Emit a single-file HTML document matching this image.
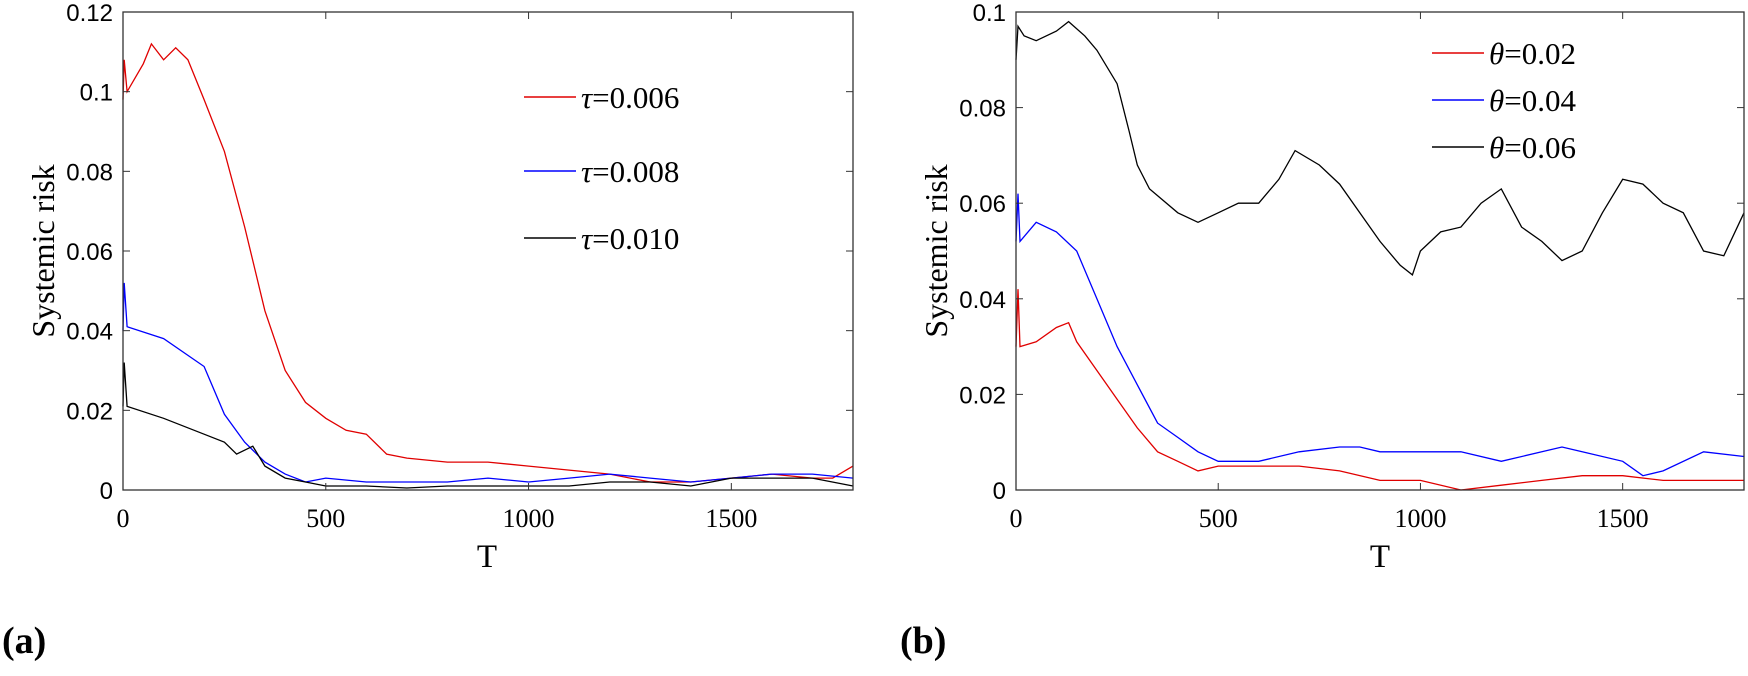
<!DOCTYPE html>
<html><head><meta charset="utf-8"><style>
body{margin:0;background:#fff;width:1748px;height:671px;overflow:hidden}
svg text{font-family:"Liberation Serif",serif}
.ya{font-family:"Liberation Sans",sans-serif;font-size:24px}
</style></head><body>
<svg id="svg" width="1748" height="671" xmlns="http://www.w3.org/2000/svg"></svg>
<script>
// ---- panel (a) data ----
const aT=[0,3,10,50,70,100,130,160,200,250,300,350,400,450,500,550,600,650,700,800,900,1000,1100,1200,1300,1400,1500,1600,1700,1750,1800];
const aRed=[0.098,0.108,0.100,0.107,0.112,0.108,0.111,0.108,0.098,0.085,0.066,0.045,0.030,0.022,0.018,0.015,0.014,0.009,0.008,0.007,0.007,0.006,0.005,0.004,0.002,0.002,0.003,0.004,0.003,0.003,0.006];
const aTb=[0,3,10,100,200,250,300,350,400,450,500,600,700,800,900,1000,1100,1200,1300,1400,1500,1600,1700,1800];
const aBlue=[0.040,0.052,0.041,0.038,0.031,0.019,0.012,0.007,0.004,0.002,0.003,0.002,0.002,0.002,0.003,0.002,0.003,0.004,0.003,0.002,0.003,0.004,0.004,0.003];
const aTk=[0,3,10,100,200,250,280,320,350,400,450,500,600,700,800,900,1000,1100,1200,1300,1400,1500,1600,1700,1800];
const aBlack=[0.021,0.032,0.021,0.018,0.014,0.012,0.009,0.011,0.006,0.003,0.002,0.001,0.001,0.0005,0.001,0.001,0.001,0.001,0.002,0.002,0.001,0.003,0.003,0.003,0.001];
// ---- panel (b) data ----
const bTk=[0,5,20,50,100,130,170,200,250,280,300,330,400,450,500,550,600,650,690,750,800,850,900,950,980,1000,1050,1100,1150,1200,1250,1300,1350,1400,1450,1500,1550,1600,1650,1700,1750,1800];
const bBlack=[0.090,0.097,0.095,0.094,0.096,0.098,0.095,0.092,0.085,0.075,0.068,0.063,0.058,0.056,0.058,0.060,0.060,0.065,0.071,0.068,0.064,0.058,0.052,0.047,0.045,0.050,0.054,0.055,0.060,0.063,0.055,0.052,0.048,0.050,0.058,0.065,0.064,0.060,0.058,0.050,0.049,0.058];
const bTb=[0,5,10,50,100,150,200,250,300,350,400,450,500,600,700,800,850,900,1000,1100,1200,1300,1350,1400,1500,1550,1600,1700,1800];
const bBlue=[0.052,0.062,0.052,0.056,0.054,0.050,0.040,0.030,0.022,0.014,0.011,0.008,0.006,0.006,0.008,0.009,0.009,0.008,0.008,0.008,0.006,0.008,0.009,0.008,0.006,0.003,0.004,0.008,0.007];
const bTr=[0,5,10,50,100,130,150,200,250,300,350,400,450,500,600,700,800,900,1000,1100,1200,1300,1400,1500,1600,1700,1800];
const bRed=[0.030,0.042,0.030,0.031,0.034,0.035,0.031,0.025,0.019,0.013,0.008,0.006,0.004,0.005,0.005,0.005,0.004,0.002,0.002,0.000,0.001,0.002,0.003,0.003,0.002,0.002,0.002];
const xTicks=[0,500,1000,1500];
const aYTicks=[0,0.02,0.04,0.06,0.08,0.1,0.12];
const aYLabels=["0","0.02","0.04","0.06","0.08","0.1","0.12"];
const bYTicks=[0,0.02,0.04,0.06,0.08,0.1];
const bYLabels=["0","0.02","0.04","0.06","0.08","0.1"];

const NS="http://www.w3.org/2000/svg";
const svg=document.getElementById('svg');
function mk(tag,attrs,parent){const e=document.createElementNS(NS,tag);for(const k in attrs)e.setAttribute(k,attrs[k]);(parent||svg).appendChild(e);return e;}

function panel(id,L,R,T,B,ymax,yTicks,yLabels,series,legend,legY,legX,label){
  const g=mk('g',{});
  
  
  const sx=v=>L+v/1800*(R-L), sy=v=>B-v/ymax*(B-T);
  series.forEach(s=>{
    const pts=s.x.map((t,i)=>sx(t).toFixed(1)+','+sy(s.y[i]).toFixed(1)).join(' ');
    const p=mk('polyline',{points:pts,fill:'none',stroke:s.c,'stroke-width':1.3},g);
    
    
  });
  const box=mk('rect',{x:L,y:T,width:R-L,height:B-T,fill:'none',stroke:'#333','stroke-width':1.3},g);
  
  
  xTicks.forEach(t=>{
    mk('line',{x1:sx(t),x2:sx(t),y1:B,y2:B-7,stroke:'#333'},g);
    mk('line',{x1:sx(t),x2:sx(t),y1:T,y2:T+7,stroke:'#333'},g);
    const tx=mk('text',{x:sx(t),y:527,'text-anchor':'middle','font-size':26},g);tx.textContent=t;
    
    
  });
  yTicks.forEach((t,i)=>{
    mk('line',{x1:L,x2:L+7,y1:sy(t),y2:sy(t),stroke:'#333'},g);
    mk('line',{x1:R,x2:R-7,y1:sy(t),y2:sy(t),stroke:'#333'},g);
    const tx=mk('text',{x:L-10,y:sy(t)+9,'text-anchor':'end',class:'ya'},g);tx.textContent=yLabels[i];
    
    
  });
  const xt=mk('text',{x:(L+R)/2-(id=='a'?1:0),y:567,'text-anchor':'middle','font-size':33},g);xt.textContent='T';
  
  
  const yt=mk('text',{x:0,y:0,'text-anchor':'middle','font-size':32,transform:`translate(${L-69},${(T+B)/2}) rotate(-90)`},g);yt.textContent='Systemic risk';
  
  
  legend.forEach((l,i)=>{
    mk('line',{x1:legX,x2:legX+52,y1:legY[i],y2:legY[i],stroke:l.c,'stroke-width':1.5},g);
    const tx=mk('text',{x:legX+57,y:legY[i]+11,'font-size':31},g);
    
    
    const s=mk('tspan',{'font-style':'italic'},tx);s.textContent=l.sym;
    const v=mk('tspan',{},tx);v.textContent='='+l.v;
  });
  const pl=mk('text',{x:label[0],y:label[1],'font-size':38,'font-weight':'bold'},g);pl.textContent=label[2];
  
  
}
panel('a',123,853,12,490,0.12,aYTicks,aYLabels,
 [{x:aT,y:aRed,c:'#e00000',n:'tau-0.006'},{x:aTb,y:aBlue,c:'#0000ff',n:'tau-0.008'},{x:aTk,y:aBlack,c:'#000',n:'tau-0.010'}],
 [{c:'#e00000',sym:'τ',v:'0.006'},{c:'#0000ff',sym:'τ',v:'0.008'},{c:'#000',sym:'τ',v:'0.010'}],[97,171,238],524,[2,653,'(a)']);
panel('b',1016,1744,12,490,0.1,bYTicks,bYLabels,
 [{x:bTk,y:bBlack,c:'#000',n:'theta-0.06'},{x:bTb,y:bBlue,c:'#0000ff',n:'theta-0.04'},{x:bTr,y:bRed,c:'#e00000',n:'theta-0.02'}],
 [{c:'#e00000',sym:'θ',v:'0.02'},{c:'#0000ff',sym:'θ',v:'0.04'},{c:'#000',sym:'θ',v:'0.06'}],[53,100,147],1432,[900,653,'(b)']);
</script>
</body></html>
